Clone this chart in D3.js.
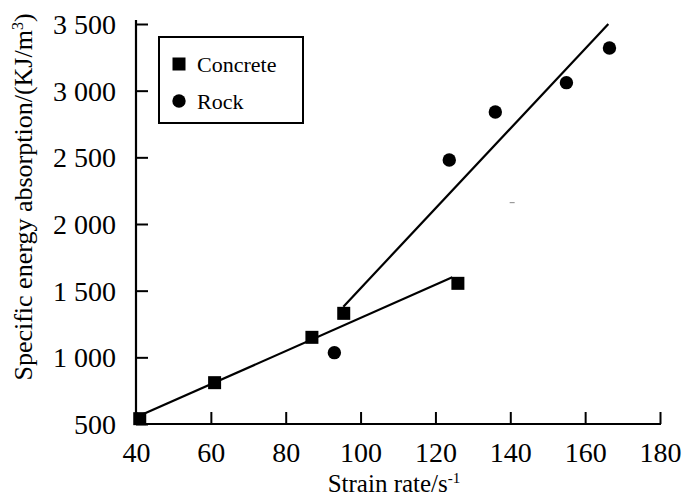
<!DOCTYPE html>
<html>
<head>
<meta charset="utf-8">
<script src="https://cdn.jsdelivr.net/npm/d3@7"></script>
<style>
  html, body { margin: 0; padding: 0; background: #fff; }
  svg { display: block; }
  svg text { font-family: "Liberation Serif", "Times New Roman", serif !important; fill: #000; }
</style>
</head>
<body>
<svg id="chart" width="683" height="498"></svg>
<script>
// ---- data ----
const concreteX = [41, 61, 87, 95.5, 126];
const concreteY = [540, 810, 1150, 1330, 1555];
const rockX = [93, 123.7, 136, 155, 166.5];
const rockY = [1035, 2480, 2840, 3060, 3320];
// fitted trend lines (endpoints)
const concreteFitX = [40, 124.5];
const concreteFitY = [550, 1600];
const rockFitX = [95.4, 166.2];
const rockFitY = [1380, 3500];
const xTicks = [40, 60, 80, 100, 120, 140, 160, 180];
const yTicks = [500, 1000, 1500, 2000, 2500, 3000, 3500];
const yTickLabels = ["500", "1 000", "1 500", "2 000", "2 500", "3 000", "3 500"];
const legendLabels = ["Concrete", "Rock"];

// ---- layout ----
const svg = d3.select("#chart");
const mLeft = 136, mRight = 660, mTop = 24, mBottom = 424;
const x = d3.scaleLinear().domain([40, 180]).range([mLeft, mRight]);
const y = d3.scaleLinear().domain([500, 3500]).range([mBottom, mTop]);
const serif = '"Liberation Serif", "Times New Roman", serif';

// axes
const xAxis = d3.axisBottom(x).tickValues(xTicks).tickSizeInner(-12).tickSizeOuter(0).tickPadding(18);
const yAxis = d3.axisLeft(y).tickValues(yTicks).tickSizeInner(-12).tickSizeOuter(0).tickPadding(20)
  .tickFormat((d, i) => yTickLabels[i]);

const gx = svg.append("g").attr("transform", `translate(0,${mBottom})`).call(xAxis);
const gy = svg.append("g").attr("transform", `translate(${mLeft},0)`).call(yAxis);
[gx, gy].forEach(g => {
  g.attr("font-family", serif);
  g.select(".domain").attr("stroke", "#000").attr("stroke-width", 2.2);
  g.selectAll(".tick line").attr("stroke", "#000").attr("stroke-width", 2);
  g.selectAll(".tick text").attr("font-size", 28).attr("fill", "#000");
});
gy.select(".domain").attr("d", `M0,${mTop - 4}V${mBottom + 1}`);
gx.select(".domain").attr("d", `M${mLeft - 1},0H${mRight + 1}`);
gy.selectAll(".tick text").attr("dy", "0.34em");

// axis titles
svg.append("text")
  .attr("x", 394).attr("y", 492)
  .attr("text-anchor", "middle").attr("font-size", 25).attr("font-family", serif)
  .html('Strain rate/s<tspan dy="-9" font-size="15">-1</tspan>');

svg.append("text")
  .attr("transform", "translate(32,197) rotate(-90)")
  .attr("text-anchor", "middle").attr("font-size", 26).attr("font-family", serif)
  .html('Specific energy absorption/(KJ/m<tspan dy="-9" font-size="16">3</tspan><tspan dy="9">)</tspan>');

// fit lines
const line = d3.line().x(d => x(d[0])).y(d => y(d[1]));
svg.append("path")
  .datum(concreteFitX.map((v, i) => [v, concreteFitY[i]]))
  .attr("d", line).attr("fill", "none").attr("stroke", "#000").attr("stroke-width", 2.2);
svg.append("path")
  .datum(rockFitX.map((v, i) => [v, rockFitY[i]]))
  .attr("d", line).attr("fill", "none").attr("stroke", "#000").attr("stroke-width", 2.2);

// markers
const sq = 13;
svg.append("g").selectAll("rect")
  .data(concreteX.map((v, i) => [v, concreteY[i]]))
  .join("rect")
  .attr("x", d => x(d[0]) - sq / 2).attr("y", d => y(d[1]) - sq / 2)
  .attr("width", sq).attr("height", sq).attr("fill", "#000");
svg.append("g").selectAll("circle")
  .data(rockX.map((v, i) => [v, rockY[i]]))
  .join("circle")
  .attr("cx", d => x(d[0])).attr("cy", d => y(d[1]))
  .attr("r", 6.7).attr("fill", "#000");

// small stray mark present in the original
svg.append("line")
  .attr("x1", x(140.5) - 2.5).attr("x2", x(140.5) + 2.5)
  .attr("y1", y(2160)).attr("y2", y(2160))
  .attr("stroke", "#888").attr("stroke-width", 1);

// legend
const lg = svg.append("g");
lg.append("rect").attr("x", 159).attr("y", 37).attr("width", 144).attr("height", 86)
  .attr("fill", "#fff").attr("stroke", "#000").attr("stroke-width", 2);
lg.append("rect").attr("x", 179 - sq / 2).attr("y", 64 - sq / 2).attr("width", sq).attr("height", sq).attr("fill", "#000");
lg.append("circle").attr("cx", 179).attr("cy", 101).attr("r", 6.7).attr("fill", "#000");
lg.selectAll("text.lab").data(legendLabels).join("text")
  .attr("class", "lab")
  .attr("x", 197).attr("y", (d, i) => i === 0 ? 72 : 109)
  .attr("font-size", 22).attr("font-family", serif).text(d => d);
</script>
</body>
</html>
